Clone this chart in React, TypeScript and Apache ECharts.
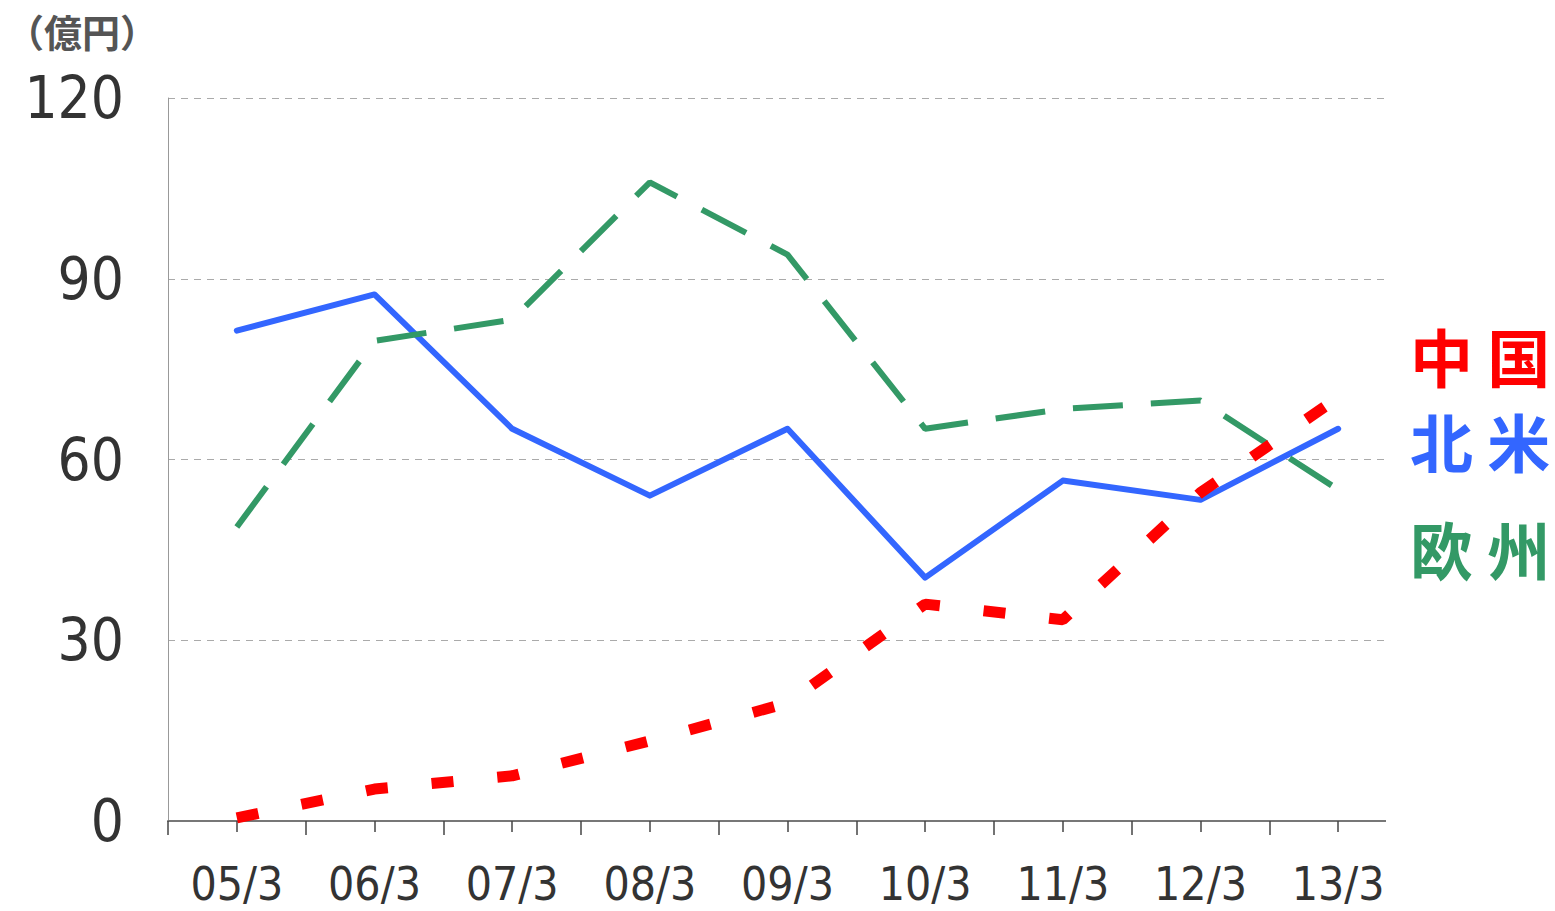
import React, { useEffect, useRef } from "react";
import * as echarts from "echarts";

const categories = ["05/3", "06/3", "07/3", "08/3", "09/3", "10/3", "11/3", "12/3", "13/3"];
const northAmerica = [81.4, 87.4, 65.1, 54.0, 65.1, 40.4, 56.5, 53.3, 65.1];
const europe = [48.8, 79.7, 83.2, 106.0, 94.0, 65.1, 68.4, 69.8, 55.0];
const china = [0.5, 5.3, 7.5, 13.3, 19.6, 36.0, 33.4, 54.5, 70.3];
const yTicks = { min: 0, max: 120, interval: 30 };
const unitLabel = "（億円）";
const seriesNames = { china: "中 国", na: "北 米", eu: "欧 州" };

const RED = "#ff0000";
const BLUE = "#3366ff";
const GREEN = "#339966";

export default function App() {
  const ref = useRef<HTMLDivElement>(null);
  useEffect(() => {
    if (!ref.current) return;
    const chart = echarts.init(ref.current, null, { renderer: "svg" });
    const gridLeft = 168;
    const gridTop = 98;
    const gridW = 1239;
    const gridH = 723;
    const narrow = "'Liberation Sans Narrow', 'DejaVu Sans Condensed', 'Noto Sans', sans-serif";
    const labelFont = "bold 63px 'Noto Sans CJK JP', sans-serif";
    chart.setOption({
      animation: false,
      backgroundColor: "#ffffff",
      grid: { left: gridLeft, top: gridTop, width: gridW, height: gridH },
      xAxis: [
        {
          type: "category",
          data: categories,
          boundaryGap: true,
          axisLine: { show: true, lineStyle: { color: "#777", width: 2 } },
          axisTick: { show: true, length: 14, lineStyle: { color: "#444", width: 1.5 } },
          axisLabel: { color: "#333", fontSize: 46, fontFamily: narrow, margin: 40 },
          splitLine: { show: false },
        },
        {
          type: "category",
          data: categories,
          position: "bottom",
          boundaryGap: true,
          axisLine: { show: false },
          axisTick: { show: true, alignWithLabel: true, length: 11, lineStyle: { color: "#444", width: 1.5 } },
          axisLabel: { show: false },
          splitLine: { show: false },
        },
      ],
      yAxis: {
        type: "value",
        min: yTicks.min,
        max: yTicks.max,
        interval: yTicks.interval,
        axisLine: { show: true, lineStyle: { color: "#999", width: 1 } },
        axisTick: { show: false },
        axisLabel: { color: "#333", fontSize: 58, fontFamily: narrow, margin: 44 },
        splitLine: { show: true, lineStyle: { color: "#aaa", width: 1, type: [7, 6] } },
      },
      series: [
        {
          name: seriesNames.na,
          type: "line",
          data: northAmerica,
          showSymbol: false,
          symbol: "none",
          lineStyle: { color: BLUE, width: 6, cap: "round", join: "round" },
          z: 3,
        },
        {
          name: seriesNames.eu,
          type: "line",
          data: europe,
          showSymbol: false,
          symbol: "none",
          lineStyle: { color: GREEN, width: 6, type: [50, 28], cap: "butt" },
          z: 4,
        },
        {
          name: seriesNames.china,
          type: "line",
          data: china,
          showSymbol: false,
          symbol: "none",
          lineStyle: { color: RED, width: 11, type: [22, 44], cap: "butt" },
          z: 5,
        },
      ],
      graphic: [
        {
          type: "rect",
          shape: { x: 1386, y: 80, width: 24, height: 770 },
          style: { fill: "#ffffff" },
          z: 100,
        },
        {
          type: "text",
          left: 6,
          top: 10,
          style: { text: unitLabel, fill: "#555", font: "bold 38px 'Noto Sans CJK JP', sans-serif", lineHeight: 40 },
          z: 101,
        },
        {
          type: "text",
          left: 1410,
          top: 322,
          style: { text: seriesNames.china, fill: RED, font: labelFont, lineHeight: 64 },
          z: 101,
        },
        {
          type: "text",
          left: 1410,
          top: 407,
          style: { text: seriesNames.na, fill: BLUE, font: labelFont, lineHeight: 64 },
          z: 101,
        },
        {
          type: "text",
          left: 1410,
          top: 515,
          style: { text: seriesNames.eu, fill: GREEN, font: labelFont, lineHeight: 64 },
          z: 101,
        },
      ],
    });
    return () => chart.dispose();
  }, []);
  return <div ref={ref} style={{ position: "fixed", left: 0, top: 0, width: 1555, height: 911 }} />;
}
